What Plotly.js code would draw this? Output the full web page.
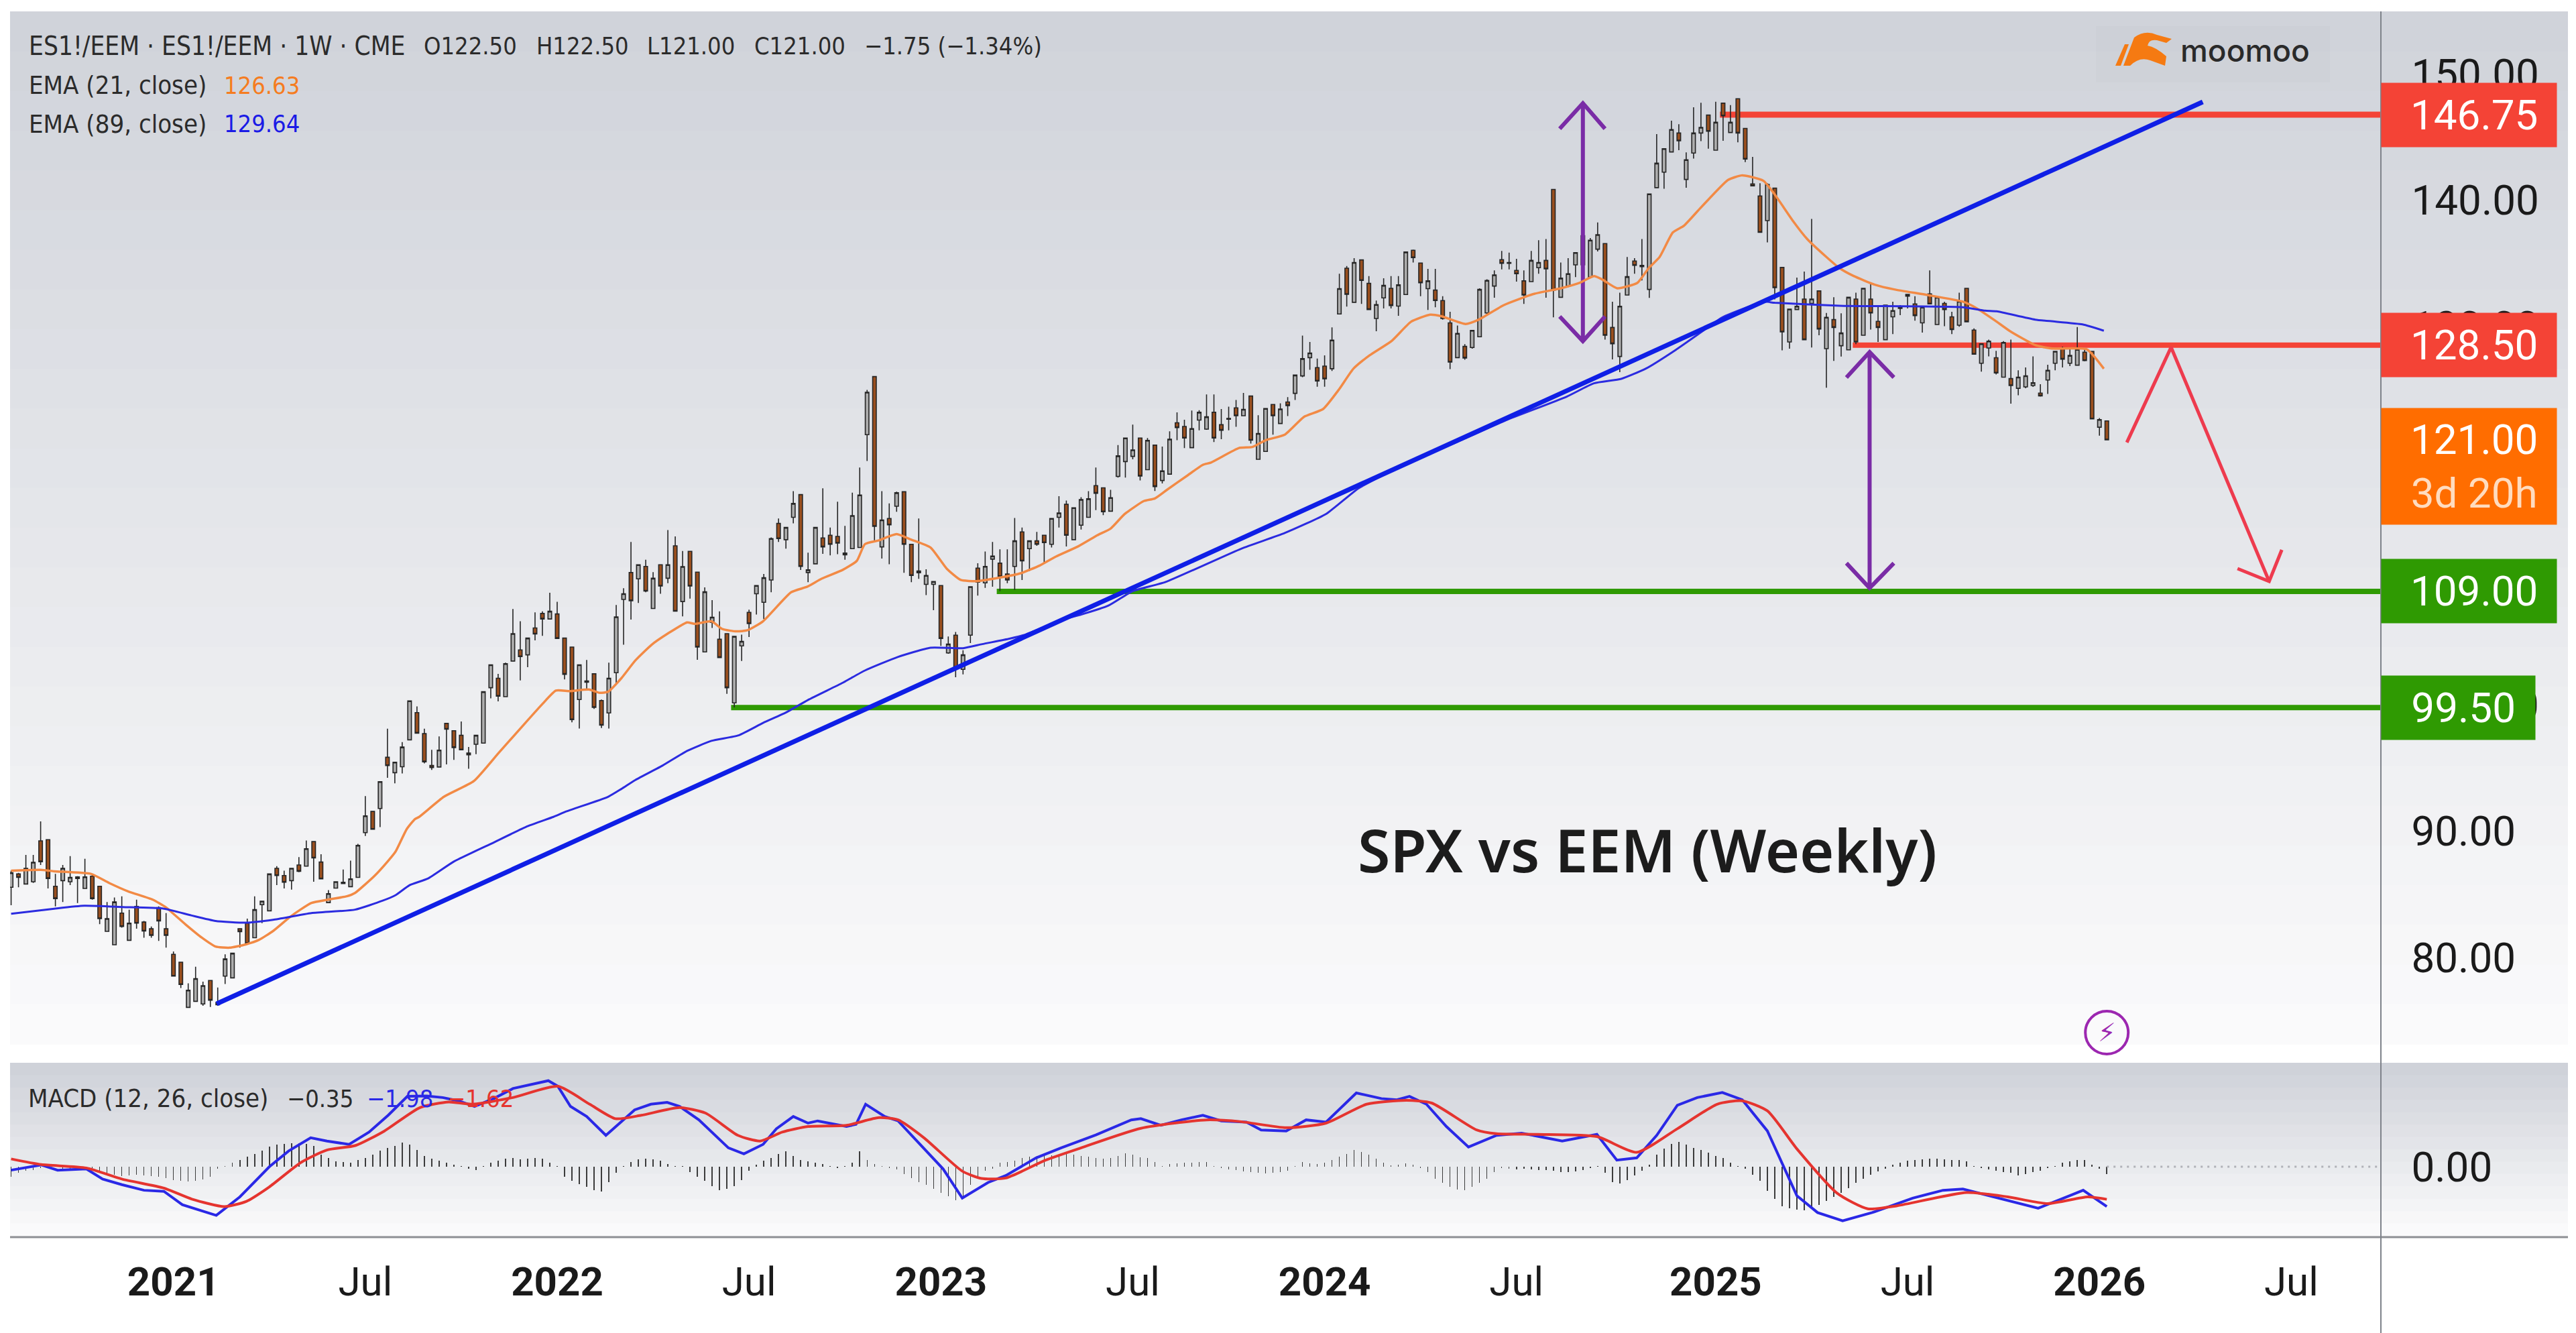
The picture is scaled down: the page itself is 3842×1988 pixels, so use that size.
<!DOCTYPE html>
<html>
<head>
<meta charset="utf-8">
<script src="https://cdn.plot.ly/plotly-3.0.1.min.js"></script>
<style>html,body{margin:0;padding:0;background:#fff;overflow:hidden}#chart{width:3842px;height:1988px}</style>
</head>
<body>
<div id="chart"></div>
<script>
// ---------- weekly candles, one value per week from the first bar ----------
const firstBar = Date.UTC(2020, 7, 3);
const opens = [
85.56,86.62,85.82,86.0,89.24,89.33,85.64,86.09,86.0,86.39,
85.47,86.44,85.64,82.07,81.01,83.52,81.36,84.05,82.81,82.28,
83.96,82.28,80.25,79.63,76.05,76.53,76.32,78.18,76.44,78.53,
78.39,82.28,82.72,81.57,84.18,83.7,87.06,86.49,86.09,87.33,
87.24,89.18,87.56,84.35,85.5,85.96,85.61,86.35,89.89,91.57,
91.8,95.86,94.64,95.11,97.24,99.4,97.73,95.21,95.09,98.54,
97.96,97.6,96.19,96.89,96.98,101.37,102.12,100.66,103.48,104.36,
103.97,106.1,107.25,106.81,107.21,105.3,104.59,100.43,101.9,102.47,
100.35,99.37,102.56,108.36,110.49,109.99,110.97,107.64,111.11,110.04,
112.61,108.19,112.17,110.52,104.2,106.54,105.21,105.65,100.17,104.68,
107.34,108.81,108.13,109.9,114.38,113.09,114.86,116.66,110.49,111.18,
113.23,113.44,113.35,112.03,112.38,112.47,121.41,126.01,112.52,114.77,
115.74,116.89,112.73,110.61,109.55,109.55,109.46,104.12,105.53,102.82,
105.53,110.84,109.67,111.55,111.23,110.38,110.97,113.71,112.38,113,
113.44,112.73,114.86,115.89,113.09,114.24,114.86,117.37,117.2,115.35,
118.1,119.28,119.69,121.14,118.63,120.58,117.78,118.28,122.35,122.06,
120.38,122.56,121.85,123.18,122.2,122.7,123.53,122.91,124.47,119.46,
120.08,123.8,122.29,124,124.68,126.06,127.51,126.72,126.84,126.63,
130.97,134.59,131.89,135.25,133.39,130.61,132.24,133,131.59,132.51,
136.01,135,132.97,132.86,132.03,130.26,127.51,128.4,128.31,129.16,
131.05,133.18,135.27,135.04,134.42,133.59,133.53,134.63,135.21,140.83,
132.29,133.18,134.86,137.16,133.89,136.1,136.54,129.9,127.6,132.47,
135.16,134.82,132.91,140.97,142.2,143.8,145.3,141.62,143.71,145.3,
146.72,143.94,147.66,145.34,148.01,145.66,141.27,140.31,138.36,140.93,
134.65,128.75,131.32,132.15,131.8,132.79,128.22,130.52,128.45,128.13,
132.15,129.28,132.15,130.38,128.93,130.74,131.53,132.52,131.76,130.26,
132.56,130.13,131.8,130.74,130.08,133,129.69,127.06,128.27,127.5,
125.96,125.85,125.08,125.19,125.3,124.7,125.74,127.06,128.23,127.06,
126.91,127.94,128.01,122,122.5];
const closes = [
86.71,86.35,87.06,87.54,87.59,86.26,84.67,87.06,86.35,86.26,
86.39,84.67,83.08,83.08,84.4,82.46,82.72,82.72,82.1,81.75,
82.9,81.75,78.53,77.86,77.41,78.33,77.77,76.62,76.26,79.89,
80.34,82.05,81.13,83.79,84.46,86.62,86.49,85.96,87.06,86.83,
88.62,87.89,86.23,85.06,86.0,85.86,86.23,88.88,91.22,90.16,
93.93,95.2,95.47,96.67,100.33,97.77,95.5,95.04,96.42,98.08,
96.63,96.45,96.05,97.6,101.05,103.18,100.7,103.27,105.65,103.83,
105.3,105.62,106.81,107.42,105.27,102.43,98.84,103.18,101.8,99.81,
98.4,102.12,106.98,108.81,108.26,111.11,109.02,110.04,109.42,111.11,
107.43,110.96,109.42,104.59,108.96,106.95,103.76,101.37,105.43,105.04,
106.45,109.46,110.08,113.18,113.18,114.06,115.96,110.97,110.7,114.06,
112.52,112.73,112.82,111.89,115,116.63,124.77,114.15,114.65,114.27,
116.81,112.73,110.26,110.47,110.26,109.78,105.27,104.82,102.95,103.97,
109.37,109.73,110.97,111.8,110.17,109.9,113,111.41,113,112.73,
112.86,114.77,115.21,113.44,115.62,116.27,116.33,116.77,115.3,116.42,
119.73,121.14,120.2,118.13,120.96,117.3,118.54,121.05,121.97,121.14,
121.89,123.18,122.82,121.14,121.76,122.63,122.91,123.41,120.97,121.5,
123.48,122.91,123.44,123.71,126.13,127.43,127.87,125.66,125.83,128.9,
132.97,132.52,135.04,133.62,131.32,131.71,133.23,131.64,133.27,135.87,
135.43,133.44,133.59,132.03,130.61,127.16,129.43,127.48,129.67,132.91,
133.62,134.06,134.98,134.98,134.15,132.47,135.21,135.04,134.54,132.86,
133.8,134.15,135.83,134.86,136.81,137.25,129.28,128.61,131.58,133.92,
134.82,134.72,140.47,142.91,144.06,145.57,144.68,143.18,145.3,145.74,
145.44,146.15,146.66,146.15,145.3,143.23,141.11,137.43,141.23,133.05,
129.55,131.35,131.58,128.93,132.15,129.78,130.7,129.9,129.46,132.29,
128.75,133,131.05,129.9,131.67,131.23,131.41,132.38,130.84,131.5,
131.76,132.29,131.32,129.73,131.97,130.35,127.78,128.6,128.82,126.29,
128.71,125.3,125.96,126.07,125.52,124.48,126.51,128.01,127.39,127.68,
128.16,127.28,122.66,122.6,121];
const highs = [
86.88,86.71,88.12,88.12,90.78,89.33,86.62,87.33,88.03,86.44,
87.82,86.62,85.64,84.4,84.76,84.85,83.79,84.58,82.9,82.46,
84.05,83.52,80.48,79.63,77.95,79.27,78.09,78.18,77.63,80.25,
80.34,82.28,83.08,84.85,84.46,86.62,87.24,86.88,87.06,87.95,
89.27,89.18,88.18,85.34,86.0,86.97,87.68,89.0,92.78,91.57,
93.93,98.12,95.47,97.06,100.33,99.89,98.12,96.45,97.51,98.54,
97.96,98.7,96.68,97.6,101.05,103.18,102.47,103.35,107.6,106.63,
105.3,107.34,107.42,108.89,108.17,105.3,104.59,103.18,103.57,102.47,
100.43,103.35,107.92,109.25,112.91,111.11,111.5,110.52,111.11,113.85,
113.35,112.2,112.17,110.52,109.32,108.31,107.42,105.65,105.43,105.57,
107.55,109.46,110.38,113.27,114.77,114.06,116.93,116.66,112.06,114.06,
117.16,114.06,116.1,114.19,116.81,118.8,124.95,126.01,116.93,115.97,
116.89,116.93,112.73,114.77,110.75,109.78,109.46,105.42,105.78,104.33,
109.37,111.23,112.15,112.91,112.33,112.33,114.81,114.06,113,113.71,
113.44,114.77,116.54,116.19,115.62,116.45,116.93,118.8,117.2,117.04,
120.58,121.14,122.2,121.14,121.14,120.58,120.47,121.67,123.18,122.59,
123.32,123.35,124.59,124.59,123.44,123.62,124.15,124.72,124.47,122.95,
123.48,123.8,123.89,124.38,126.13,129.25,128.75,127.43,127.69,129.9,
134.15,134.77,135.39,135.25,133.97,132.03,133.8,133.97,133.97,135.87,
136.06,135,134.54,134.54,132.38,131.14,130.05,128.58,129.67,133,
133.71,134.42,135.96,135.83,135.34,134.42,135.96,136.81,136.9,140.83,
135.04,135.39,135.83,137.25,136.98,138.22,136.54,131.94,132.65,135.48,
135.39,136.9,140.47,145.21,144.06,146.27,146.0,143.76,147.34,147.69,
146.72,147.78,147.66,147.51,148.01,145.66,143.41,141.32,141.32,140.97,
134.65,131.35,133.85,134.33,138.49,132.82,131.05,132.29,131.02,132.29,
132.65,133,133.35,131.67,131.67,131.94,131.67,132.52,132.38,131.5,
134.42,132.29,131.94,131.14,132.65,133,129.82,128.6,128.93,128.05,
128.82,128.93,126.51,126.73,127.61,125.41,126.95,128.05,128.38,128.16,
129.93,128.27,128.01,122.72,122.5];
const lows = [
84.14,85.56,85.82,85.91,87.33,85.47,84.05,84.4,85.73,84.32,
85.47,84.58,82.64,82.07,81.01,82.37,81.36,82.28,81.57,81.57,
81.31,80.78,78.53,77.59,76.05,76.53,76.18,76.09,76.18,77.91,
78.39,80.78,81.13,81.57,82.72,83.7,85.73,85.47,85.38,86.76,
87.24,86.0,86.23,84.32,85.5,85.86,85.61,86.35,89.63,90.16,
90.33,94.23,93.79,94.58,97.24,97.73,95.38,94.86,95.09,95.3,
95.65,96.45,94.95,96.1,96.98,100.52,100.29,100.66,103.48,101.94,
103,105.12,105.48,106.81,105.27,102.03,98.63,98.13,101.14,99.69,
98.17,98.13,101.67,104.77,106.77,108.08,108.93,107.64,108.81,109.64,
107.43,107.02,108.43,103.58,104.2,106.1,103.76,100.88,99.81,103.48,
105.39,107.16,106.81,108.93,112.91,112.38,114.38,110.7,109.73,111.18,
111.97,111.85,111.94,111.5,112.38,112.47,119.32,113,111.6,111.14,
115.3,110.47,109.73,109.99,108.7,107.51,104.68,104.06,102.2,102.43,
104.91,108.66,109.28,109.37,109.02,109.64,109.11,109.9,110.61,112.61,
111.27,112.47,114.06,112.56,113.09,113.89,114.86,115.44,115.04,115.35,
118.01,118.01,119.46,117.78,118.63,116.95,117.55,118.28,120.97,120.35,
120.38,121.76,121.8,120.82,121.05,121.76,122.03,122.91,120.7,119.46,
120.08,121.41,122.29,122.88,124.15,125.96,126.54,125.21,125.21,126.45,
130.97,131.55,131.89,131.76,131.32,129.6,131.41,131.41,130.82,132.51,
135.04,132.38,131.28,131.5,130.52,126.6,127.51,127.34,128.22,129.16,
130.97,132.26,134.5,134.5,133.53,131.76,133.53,134.15,132.26,130.7,
132.26,133.09,133.89,134.77,133.89,135.92,128.93,127.37,126.36,132.47,
134.15,133.62,132.24,140.97,140.88,143.8,143.94,140.97,143.27,144.65,
144.06,143.94,144.68,145.34,144.56,143,141.11,137.43,136.63,132.12,
128.08,128.22,131.32,128.93,128.31,129.28,125.12,127.25,127.6,128.13,
128.58,129.28,129.73,128.75,128.93,129.37,130.88,131.41,130.43,129.5,
131.76,130.13,130,129.37,129.96,130.35,127.78,126.4,127.61,126.18,
125.96,123.87,124.53,125.08,125.19,124.42,124.64,126.51,126.73,126.84,
126.91,127.22,122.66,121.33,121];

// ---------- EMA lines: [bar number, value] read at the bends ----------
const ema21Bars = [0,4,5.85,10.85,13.26,15.85,19.2,21,23.6,25.85,27.7,29.6,31.8,33.6,35.5,37.7,39.2,40.7,42.9,45.5,46.6,49.2,51,52.1,53.6,54.7,55.3,58.65,62.7,66.05,69,72,73.83,75.7,78.3,79.75,80.9,82.7,84.6,86.8,89,91.6,92.7,94.9,96.4,98.3,99.8,101.9,105.7,107.9,109.8,112.7,114.6,115.7,117.6,120,122,124.6,126.8,128.7,130.9,133.9,136.8,139.4,141.6,144.6,147.2,149,150.9,153.5,155,156.7,159.3,161.5,162.6,166.4,168.2,170,172.6,175.2,177.8,180,181.9,184.1,187.1,189.7,192.3,193.8,197.1,198.9,202.3,206.4,210,212.6,214.5,215.6,217.65,220.4,221.9,223.4,225.2,226.7,228.95,232.65,234.5,235.6,237.5,239,241.5,243.4,246,247.8,249.7,252.65,255.2,259.7,264.5,266.4,268.9,270.9,274.3,276.6,281.3,283.6];
const ema21Vals = [86.88,86.94,86.83,86.62,85.91,85.24,84.58,83.96,82.64,81.57,80.87,80.78,81.04,81.40,82.10,83.17,83.79,84.32,84.58,84.85,85.11,86.44,87.59,88.39,90.16,90.95,91.14,92.73,93.97,96.19,98.13,100.08,101.14,101.1,101.23,100.96,101.05,102.12,103.53,104.77,105.66,106.54,106.42,106.63,106.01,105.83,105.92,106.63,108.93,109.37,109.99,110.7,111.41,112.74,113.04,113.53,113.09,112.47,110.79,109.9,109.81,110.08,110.43,111.05,111.76,112.56,113.44,113.97,115.12,116.15,116.36,117.07,118.13,119.02,119.2,120.35,120.43,120.97,121.41,122.82,123.44,125.03,126.63,127.69,128.84,130.35,130.91,130.79,130.17,130.52,131.67,132.56,133,133.44,133.97,133.71,133,133.44,134.59,135.48,137.43,137.96,139.37,141.58,141.94,141.85,141.5,140.43,138.31,136.9,135.48,134.59,133.97,133.27,132.91,132.47,131.94,131.41,130.43,129.6,128.5,128.23,128.16,126.63];
const ema89Bars = [0,5.85,9.9,15.1,20.7,24.4,27.7,31.8,35.5,40.7,46.6,50.3,52.1,54,56.5,60,65,70,73.5,75.3,80.9,82.7,84.6,88.3,91.6,94.9,98.6,101.9,105,108,112.7,115.7,120.15,124.6,129,131.6,135.3,137.2,142.7,145,148.7,152,156.4,166.7,172.6,178.2,182.6,187.8,197.5,202.6,210.8,214.5,218.2,221.5,225.6,229.3,231.9,237.5,239,247.8,264.5,267.5,269.1,274.3,280.7,283.6];
const ema89Vals = [83.47,83.87,84.1,84,83.87,83.34,82.9,82.76,82.99,83.52,83.79,84.49,84.94,85.73,86.26,87.6,89,90.4,91.14,91.58,92.73,93.35,94.06,95.21,96.36,97.16,97.6,98.58,99.4,100.4,101.76,102.73,103.8,104.54,104.5,104.82,105.25,105.53,106.8,107.16,107.87,109.02,109.73,112.38,113.62,115.13,117.16,118.75,121.23,122.56,124.42,125.48,125.83,126.63,128.13,129.64,130.7,131.94,131.85,131.62,131.5,131.23,131.18,130.52,130.14,129.64];

// ---------- MACD pane ----------
const macdBars = [0,1.9,4.1,6.3,10.2,12.4,15,18,20.7,23.2,27.8,31,35,37.6,40.6,42.8,45.8,48.5,51.1,53.7,56.3,58.5,60.6,62.8,65.4,68,72.8,74.1,75.8,78,80.6,84.5,86.7,88.9,90.6,93.2,97.2,99.3,101.9,103.7,106,108,109.3,113.2,114.5,115.8,118.4,120.2,123.7,126.3,128.9,132.4,134.8,138.9,142.3,147,151.8,153.1,155.8,158.6,161.5,164,167.4,169.4,172.8,175.5,178.2,182.3,185.7,187.8,189.5,191.8,194.5,197.5,201.3,204.7,210.2,214.9,217.6,220.3,223,225.8,228.5,231.9,234.6,238,242,244.8,248.2,250.2,252.2,257.7,261.8,264.5,269.2,274.7,277.4,280.8,284];
const macdVals = [-0.17,-0.06,0.09,-0.17,-0.11,-0.61,-0.89,-1.17,-1.22,-1.89,-2.42,-1.5,0,0.78,1.44,1.28,1.11,1.72,2.56,3.5,3.52,3.44,3.28,3,3.39,3.89,4.28,4,3,2.5,1.56,2.83,3.11,3.2,3,2.33,0.94,0.64,1.11,1.89,2.5,2.17,2.28,2,2.11,3.11,2.5,2.28,0.89,-0.11,-1.56,-0.78,-0.44,0.44,0.94,1.58,2.33,2.39,2.06,2.33,2.56,2.28,2.22,1.83,1.78,2.33,2.22,3.67,3.39,3.33,3.5,3.11,2,0.98,1.56,1.67,1.28,1.61,0.33,0.44,1.56,3.06,3.44,3.69,3.33,1.78,-1.44,-2.28,-2.69,-2.5,-2.28,-1.56,-1.17,-1.11,-1.56,-2.06,-1.67,-1.17,-1.98];
const signalBars = [0,4.1,10.2,15,20.7,24.5,28.9,31.9,35,39.3,42.8,46.7,50.6,55.4,59.3,62.4,68,74.1,78.4,81.9,85.4,90.6,94.1,98.5,101.5,104.5,108,113.2,117.6,120.2,123.7,128.9,131.5,134.8,140.2,145,153.1,162,166.7,172.8,178.2,183.7,189.1,192.5,198.6,201.3,206.8,214.9,220.3,225.8,231.2,234.6,238,242,247.5,251.6,255.6,265,270.6,276,281.4,284];
const signalVals = [0.39,0.11,-0.06,-0.61,-1.06,-1.61,-1.98,-1.72,-1,0.22,0.83,1.06,1.78,2.94,3.22,3.11,3.44,4,3.11,2.39,2.56,2.94,2.67,1.56,1.28,1.72,2,2.06,2.44,2.33,1.44,-0.22,-0.58,-0.56,0.33,0.94,1.91,2.33,2.24,1.94,2.17,3.11,3.3,3.17,1.83,1.64,1.61,1.5,0.72,1.89,3.11,3.28,2.78,0.89,-1.33,-2.09,-1.94,-1.28,-1.5,-1.83,-1.5,-1.62];
const histVals = [
-0.5,-0.3,-0.2,-0.15,-0.05,0.05,0,-0.1,-0.1,-0.1,
-0.1,-0.1,-0.25,-0.35,-0.4,-0.45,-0.42,-0.4,-0.42,-0.45,
-0.5,-0.55,-0.65,-0.7,-0.72,-0.7,-0.62,-0.5,-0.1,0.05,
0.2,0.33,0.5,0.65,0.8,1.0,1.1,1.15,1.17,1.17,
1.15,1.05,0.6,0.42,0.28,0.22,0.2,0.35,0.45,0.6,
0.8,0.95,1.05,1.2,1.1,0.85,0.55,0.4,0.3,0.2,
0.1,0.05,-0.1,-0.17,0.05,0.2,0.3,0.4,0.44,0.38,
0.4,0.42,0.4,0.2,0.05,-0.5,-0.7,-0.85,-1.0,-1.15,
-1.22,-0.75,-0.3,0.05,0.25,0.38,0.4,0.38,0.3,0.12,
0.05,0.03,-0.25,-0.5,-0.7,-0.95,-1.17,-1.1,-0.95,-0.65,
-0.2,0.1,0.3,0.45,0.65,0.78,0.55,0.35,0.28,0.2,
0.12,0.03,-0.05,0.05,0.2,0.78,0.35,0.15,0.05,-0.05,
-0.12,-0.35,-0.55,-0.75,-0.9,-1.1,-1.3,-1.45,-1.67,-1.5,
-0.9,-0.45,-0.2,-0.1,0.2,0.22,0.3,0.42,0.5,0.52,
0.55,0.58,0.6,0.62,0.61,0.55,0.5,0.44,0.4,0.45,
0.55,0.67,0.6,0.48,0.42,0.25,0.05,0.12,0.17,0.2,
0.2,0.22,0.22,0.05,-0.05,-0.12,-0.18,-0.22,-0.28,-0.3,
-0.33,-0.3,-0.28,-0.2,0.05,0.22,0.18,0.15,0.2,0.35,
0.5,0.65,0.83,0.75,0.6,0.4,0.2,0.08,0.1,0.17,
0.1,-0.05,-0.25,-0.6,-0.8,-1.0,-1.12,-1.17,-1.0,-0.8,
-0.6,-0.25,-0.05,-0.1,-0.12,-0.1,-0.12,-0.15,-0.18,-0.2,
-0.25,-0.28,-0.22,-0.15,-0.05,0.05,-0.3,-0.75,-0.83,-0.65,
-0.44,-0.2,0.1,0.6,0.9,1.15,1.22,1.1,0.95,0.85,
0.7,0.55,0.45,0.2,0.05,-0.1,-0.4,-0.7,-1.2,-1.6,
-1.95,-2.05,-2.12,-2.15,-2.05,-1.9,-1.7,-1.5,-1.3,-1.05,
-0.8,-0.6,-0.4,-0.22,-0.1,0.11,0.2,0.3,0.35,0.37,
0.39,0.39,0.37,0.35,0.33,0.28,0.05,-0.05,-0.12,-0.2,
-0.25,-0.3,-0.44,-0.35,-0.28,-0.2,-0.08,0.05,0.2,0.28,
0.33,0.33,0.1,-0.1,-0.35];

// ---------- drawn levels and tools ----------
const chartEnd = '2026-09-29';
const resistTopStart = '2025-01-10';
const resistMidStart = '2025-05-16';
const supportHighStart = '2023-02-24';
const supportLowStart = '2022-06-17';
const levels = [146.75, 128.5, 109, 99.8];
const trendX = ['2021-02-14', '2026-04-13'];
const trendY = [76.34, 147.76];
const projectionX = ['2026-01-31','2026-03-14','2026-06-15'];
const projectionY = [120.79,128.33,109.79];
const projectionHeadX = ['2026-05-16','2026-06-15','2026-06-27'];
const projectionHeadY = [110.8,109.79,112.29];
const swingUpX = ['2024-08-11','2024-09-02','2024-09-23','2024-09-02','2024-09-02','2024-08-11','2024-09-02','2024-09-23'];
const swingUpY = [145.64,147.66,145.64,147.66,128.81,130.77,128.81,130.77];
const swingDownX = ['2025-05-10','2025-06-01','2025-06-24','2025-06-01','2025-06-01','2025-05-10','2025-06-01','2025-06-24'];
const swingDownY = [125.94,127.95,125.94,127.95,109.26,111.23,109.26,111.23];

// ---------- axis labels ----------
const timeTicks = ['2021-01-04','2021-07-05','2022-01-03','2022-07-04','2023-01-02','2023-07-03','2024-01-01','2024-07-01','2025-01-06','2025-07-07','2026-01-05','2026-07-06'];
const timeLabels = ['<b>2021</b>','Jul','<b>2022</b>','Jul','<b>2023</b>','Jul','<b>2024</b>','Jul','<b>2025</b>','Jul','<b>2026</b>','Jul'];
const priceTicks = [80,90,100,110,120,130,140,150];
const priceLabels = ['80.00','90.00','100.00','110.00','120.00','130.00','140.00','150.00'];

// ---------- helpers ----------
const W = 3842, H = 1988;
const px = v => v / W, py = v => 1 - v / H;
const barDate = i => new Date(firstBar + i * 7 * 86400000).toISOString().slice(0, 19).replace('T', ' ');
const weeks = opens.map((_, i) => barDate(i));
if ([closes, highs, lows, histVals].some(a => a.length !== opens.length)) {
  throw new Error('len ' + [opens, closes, highs, lows, histVals].map(a => a.length).join(','));
}
const lastWeek = weeks[weeks.length - 1];

const RED = '#f44336', GREEN = '#2f9a02', ORANGE = '#ff6d00', BLUE = '#0f1fe6', PURPLE = '#7a2ca6';
const UI = 'Roboto, sans-serif';
const LEG = '"DejaVu Sans Condensed", "DejaVu Sans", sans-serif';

const level = (start, v, color, w) => ({type: 'scatter', mode: 'lines', x: [start, chartEnd], y: [v, v], xaxis: 'x', yaxis: 'y', line: {color, width: w}, zorder: -1});
const tool = (x, y, color, w) => ({type: 'scatter', mode: 'lines', x, y, xaxis: 'x', yaxis: 'y', line: {color, width: w}, zorder: 1});

const traces = [
  level(resistTopStart, levels[0], RED, 9),
  level(resistMidStart, levels[1], RED, 8),
  level(supportHighStart, levels[2], GREEN, 8),
  level(supportLowStart, levels[3], GREEN, 8),
  tool(swingUpX, swingUpY, PURPLE, 6),
  tool(swingDownX, swingDownY, PURPLE, 6),
  {type: 'candlestick', x: weeks, open: opens, high: highs, low: lows, close: closes, xaxis: 'x', yaxis: 'y', whiskerwidth: 0,
   increasing: {line: {color: '#262626', width: 1.6}, fillcolor: '#adadad'},
   decreasing: {line: {color: '#262626', width: 1.6}, fillcolor: '#9a4f1e'}, zorder: 0},
  {type: 'scatter', mode: 'lines', x: ema21Bars.map(barDate), y: ema21Vals, xaxis: 'x', yaxis: 'y', line: {color: '#f28a45', width: 3.5, shape: 'spline', smoothing: 0.5}, zorder: 1},
  {type: 'scatter', mode: 'lines', x: ema89Bars.map(barDate), y: ema89Vals, xaxis: 'x', yaxis: 'y', line: {color: '#2b2be0', width: 3, shape: 'spline', smoothing: 0.5}, zorder: 1},
  tool(trendX, trendY, BLUE, 7),
  tool(projectionX, projectionY, '#ee3b4e', 5),
  tool(projectionHeadX, projectionHeadY, '#ee3b4e', 5),
  {type: 'scatter', mode: 'markers', x: [lastWeek], y: [74.05], xaxis: 'x', yaxis: 'y', marker: {symbol: 'circle-open', size: 64, color: '#9c27b0', line: {color: '#9c27b0', width: 4}}},
  {type: 'bar', x: weeks, y: histVals, xaxis: 'x', yaxis: 'y2', width: 82000000, marker: {color: '#3c3c3c', line: {width: 0}}},
  {type: 'scatter', mode: 'lines', x: [lastWeek, chartEnd], y: [0, 0], xaxis: 'x', yaxis: 'y2', line: {color: '#b0b2b8', width: 3, dash: '3px,7px'}},
  {type: 'scatter', mode: 'lines', x: macdBars.map(barDate), y: macdVals, xaxis: 'x', yaxis: 'y2', line: {color: '#2a28e6', width: 4}},
  {type: 'scatter', mode: 'lines', x: signalBars.map(barDate), y: signalVals, xaxis: 'x', yaxis: 'y2', line: {color: '#e5342f', width: 4, shape: 'spline', smoothing: 0.6}}
];

// background bands (the reference's gradient is visibly stepped)
const mix = (a, b, t) => a.map((c, i) => Math.round(c + (b[i] - c) * t));
const rgb = c => 'rgb(' + c.join(',') + ')';
const shapes = [];
function bands(top, bottom, n, c0, c1) {
  for (let k = 0; k < n; k++) {
    const y0 = top + (bottom - top) * k / n, y1 = top + (bottom - top) * (k + 1) / n;
    shapes.push({type: 'rect', xref: 'paper', yref: 'paper', x0: px(15), x1: px(3830), y0: py(y0), y1: py(y1 + 1), fillcolor: rgb(mix(c0, c1, k / (n - 1))), line: {width: 0}, layer: 'below'});
  }
}
bands(17, 1557, 26, [208, 211, 218], [250, 250, 251]);
bands(1585, 1843, 14, [207, 210, 217], [250, 250, 251]);
shapes.push({type: 'rect', xref: 'paper', yref: 'paper', x0: px(3126), x1: px(3475), y0: py(39), y1: py(123), fillcolor: 'rgba(0,0,0,0.012)', line: {width: 0}, layer: 'below'});
shapes.push({type: 'line', xref: 'paper', yref: 'paper', x0: px(15), x1: px(3830), y0: py(1845), y1: py(1845), line: {color: '#8d8f94', width: 3}});
shapes.push({type: 'line', xref: 'paper', yref: 'paper', x0: px(3551), x1: px(3551), y0: py(17), y1: 0, line: {color: '#7f838b', width: 2}});

const note = (text, x, y, size, color, extra) => Object.assign({text, xref: 'paper', yref: 'paper', x: px(x), y: py(y), xanchor: 'left', yanchor: 'middle', showarrow: false, font: {family: LEG, size, color}}, extra || {});
const tag = (text, value, color, width, height, shift) => ({text, xref: 'paper', yref: 'y', x: px(3551), y: value, xanchor: 'left', yanchor: 'middle', yshift: shift || 0, width, height, align: 'center', valign: 'middle', bgcolor: color, borderpad: 0, showarrow: false, font: {family: UI, size: 62, color: '#fff'}});

const annotations = [
  note('ES1!/EEM · ES1!/EEM · 1W · CME', 41, 68, 38.5, '#2b2b2b'),
  note('O122.50', 630, 68, 36, '#2b2b2b'),
  note('H122.50', 798, 68, 36, '#2b2b2b'),
  note('L121.00', 963, 68, 36, '#2b2b2b'),
  note('C121.00', 1123, 68, 36, '#2b2b2b'),
  note('−1.75 (−1.34%)', 1287, 68, 36, '#2b2b2b'),
  note('EMA (21, close)', 41, 127, 38, '#2b2b2b'),
  note('126.63', 332, 127, 36, '#f57c20'),
  note('EMA (89, close)', 41, 185, 38, '#2b2b2b'),
  note('129.64', 332, 185, 36, '#1a1ae6'),
  note('MACD (12, 26, close)', 40, 1638, 38, '#2b2b2b'),
  note('−0.35', 426, 1638, 36, '#2b2b2b'),
  note('−1.98', 545, 1638, 36, '#2a28e6'),
  note('−1.62', 665, 1638, 36, '#e5342f'),
  {text: 'SPX vs EEM (Weekly)', xref: 'paper', yref: 'paper', x: px(2457), y: py(1267), xanchor: 'center', yanchor: 'middle', showarrow: false, font: {family: '"Noto Sans", sans-serif', size: 88, color: '#1c1c1c', weight: 600}},
  {text: 'moomoo', xref: 'paper', yref: 'paper', x: px(3250), y: py(75), xanchor: 'left', yanchor: 'middle', showarrow: false, font: {family: 'Inter, sans-serif', size: 46, color: '#2a2a2a', weight: 500}},
  {text: '⚡', xref: 'x', yref: 'y', x: lastWeek, y: 74.05, xanchor: 'center', yanchor: 'middle', showarrow: false, font: {family: '"DejaVu Sans", sans-serif', size: 38, color: '#9c27b0'}},
  tag('&nbsp;146.75', 146.75, RED, 261, 95),
  tag('&nbsp;128.50', 128.5, RED, 261, 95),
  tag('&nbsp;121.00<br>&nbsp;<span style="color:#ffdcbf">3d 20h</span>', 121, ORANGE, 261, 173, -40),
  tag('&nbsp;109.00', 109, GREEN, 261, 95),
  tag('&nbsp;99.50', levels[3], GREEN, 229, 95)
];

const logo = 'data:image/svg+xml;utf8,' + encodeURIComponent('<svg xmlns="http://www.w3.org/2000/svg" viewBox="0 0 84 52"><g fill="#f57a12"><path d="M0 52L14 20L20 20L8 52Z"/><path d="M12 52L28 10Q44 -2 62 6L84 12L76 18L62 14Q50 12 48 22Q60 24 76 38L74 52L52 44Q36 38 22 52Z"/></g></svg>');

const layout = {
  width: W, height: H, margin: {l: 0, r: 0, t: 0, b: 0}, autosize: false, showlegend: false,
  paper_bgcolor: '#ffffff', plot_bgcolor: 'rgba(0,0,0,0)', hovermode: false, dragmode: false, bargap: 0,
  xaxis: {type: 'date', domain: [px(15), px(3551)], range: ['2020-08-02', chartEnd], anchor: 'y2', tickmode: 'array', tickvals: timeTicks, ticktext: timeLabels,
    ticks: 'outside', ticklen: 14, tickcolor: 'rgba(0,0,0,0)', tickfont: {family: UI, size: 60, color: '#1a1a1a'}, showgrid: false, zeroline: false, showline: false, rangeslider: {visible: false}, fixedrange: true},
  yaxis: {domain: [py(1583), py(17)], range: [71.77, 154.93], anchor: 'x', side: 'right', tickmode: 'array', tickvals: priceTicks, ticktext: priceLabels,
    ticks: 'outside', ticklen: 32, tickcolor: 'rgba(0,0,0,0)', tickfont: {family: UI, size: 62, color: '#1a1a1a'}, showgrid: false, zeroline: false, showline: false, fixedrange: true},
  yaxis2: {domain: [py(1845), py(1585)], range: [-3.5, 5.17], anchor: 'x', side: 'right', tickmode: 'array', tickvals: [0], ticktext: ['0.00'],
    ticks: 'outside', ticklen: 32, tickcolor: 'rgba(0,0,0,0)', tickfont: {family: UI, size: 62, color: '#1a1a1a'}, showgrid: false, zeroline: false, showline: false, fixedrange: true},
  shapes, annotations,
  images: [{source: logo, xref: 'paper', yref: 'paper', x: px(3155), y: py(46), sizex: 84 / W, sizey: 52 / H, sizing: 'stretch', xanchor: 'left', yanchor: 'top', layer: 'above'}]
};

Plotly.newPlot('chart', traces, layout, {displayModeBar: false, staticPlot: true});
</script>
</body>
</html>
